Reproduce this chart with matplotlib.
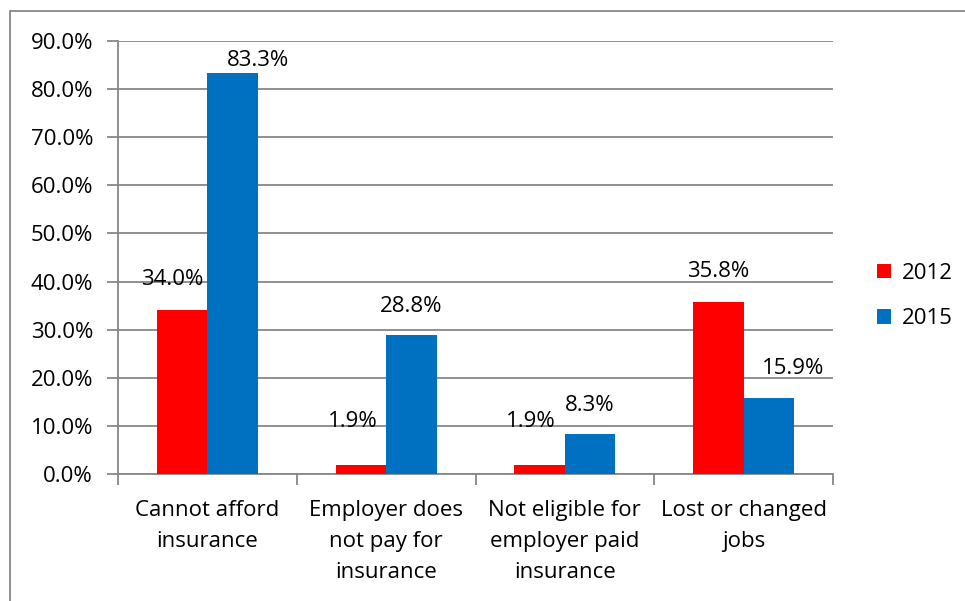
import matplotlib.pyplot as plt
import numpy as np
from matplotlib.patches import Rectangle

# Reasons for being uninsured, share of respondents
categories = ["Cannot afford\ninsurance", "Employer does\nnot pay for\ninsurance",
              "Not eligible for\nemployer paid\ninsurance", "Lost or changed\njobs"]
years = ["2012", "2015"]
vals_2012 = [34.0, 1.9, 1.9, 35.8]
vals_2015 = [83.3, 28.8, 8.3, 15.9]

RED = "#FF0000"
BLUE = "#0070C0"
GRID = "#878787"
FS = 16

plt.rcParams['font.family'] = ['Open Sans', 'DejaVu Sans']

fig = plt.figure(figsize=(9.65, 6.01), dpi=100)
ax = fig.add_axes([118 / 965, 1 - 474 / 601, (833 - 118) / 965, (474 - 41) / 601])

x = np.arange(len(categories))
w = 0.283
b1 = ax.bar(x - w / 2, vals_2012, w, color=RED, label=years[0], zorder=3)
b2 = ax.bar(x + w / 2, vals_2015, w, color=BLUE, label=years[1], zorder=3)

ax.set_xlim(-0.5, len(categories) - 0.5)
ax.set_ylim(0, 90)
ax.set_yticks(np.arange(0, 91, 10))
ax.set_yticklabels([f"{v:.1f}%" for v in np.arange(0, 91, 10)], fontsize=FS)
ax.yaxis.grid(True, color=GRID, linewidth=1.3, zorder=0)

# categories sit between ticks at the group boundaries
ax.set_xticks(np.arange(-0.5, len(categories), 1.0))
ax.set_xticklabels([])
ax.set_xticks(x, minor=True)
ax.set_xticklabels(categories, minor=True, fontsize=FS, linespacing=1.62)
ax.tick_params(axis='x', which='minor', length=0, pad=19)
ax.tick_params(axis='x', which='major', length=8, color=GRID, width=1.3)
ax.tick_params(axis='y', length=8, color=GRID, width=1.3, pad=10)

for s in ['top', 'right']:
    ax.spines[s].set_visible(False)
for s in ['left', 'bottom']:
    ax.spines[s].set_color(GRID)
    ax.spines[s].set_linewidth(1.3)

# value labels, offsets in pixels from the top of each bar
offsets_2012 = [(-10, 31), (-8, 43), (-9, 43), (0, 30)]
offsets_2015 = [(25, 13), (0, 29), (0, 29), (24, 29)]
for bars, vals, offs in [(b1, vals_2012, offsets_2012), (b2, vals_2015, offsets_2015)]:
    for bar, v, (dx, dy) in zip(bars, vals, offs):
        ax.annotate(f"{v:.1f}%", (bar.get_x() + bar.get_width() / 2, v),
                    xytext=(dx, dy), textcoords='offset pixels',
                    ha='center', va='center', fontsize=FS, zorder=4)

leg = fig.legend(loc='center left', bbox_to_anchor=(857 / 965, 1 - 296 / 601),
                 frameon=False, fontsize=FS, handlelength=0.65, handleheight=0.65,
                 labelspacing=1.1, handletextpad=0.45)

# outer chart border
fig.patches.append(Rectangle((10 / 965, -0.1), 1.0, 1 - 11 / 601 + 0.1,
                             transform=fig.transFigure, fill=False,
                             edgecolor=GRID, linewidth=1.3))

fig.savefig("out.png", dpi=100)
